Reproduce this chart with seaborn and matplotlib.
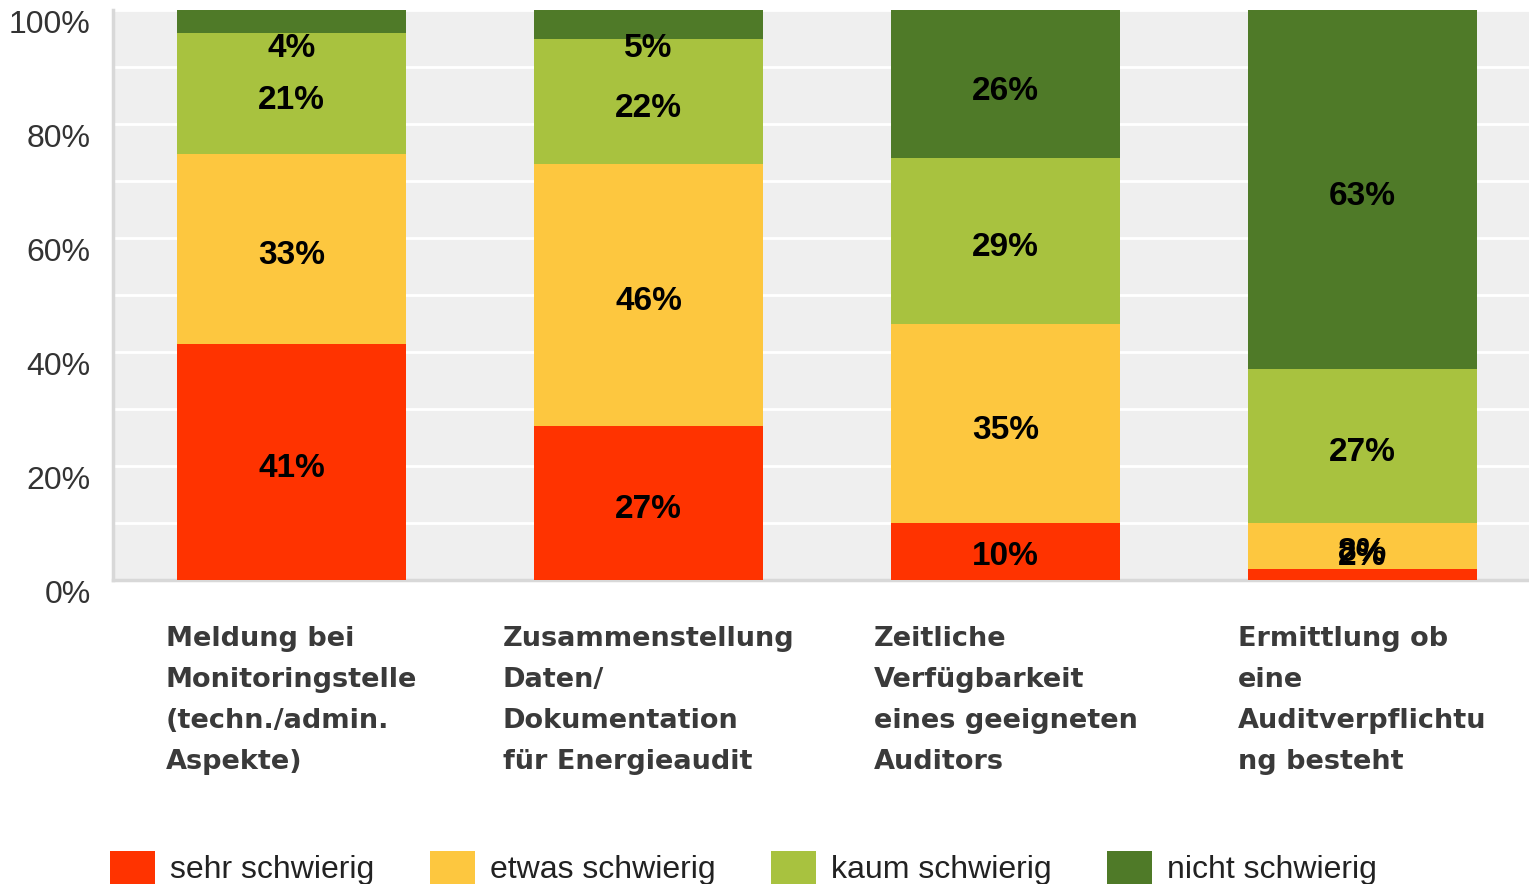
import matplotlib.pyplot as plt
import seaborn as sns
import numpy as np
from matplotlib.patches import Patch

# Daten (Anteile in %)
categories = ['Meldung bei\nMonitoringstelle\n(techn./admin.\nAspekte)',
              'Zusammenstellung\nDaten/\nDokumentation\nfür Energieaudit',
              'Zeitliche\nVerfügbarkeit\neines geeigneten\nAuditors',
              'Ermittlung ob\neine\nAuditverpflichtu\nng besteht']
series_names = ['sehr schwierig', 'etwas schwierig', 'kaum schwierig', 'nicht schwierig']
sehr = [41, 27, 10, 2]
etwas = [33, 46, 35, 8]
kaum = [21, 22, 29, 27]
nicht = [4, 5, 26, 63]
colors = ['#ff3300', '#fdc73f', '#a8c23f', '#4f7a28']
yticks = [0, 20, 40, 60, 80, 100]

values = np.array([sehr, etwas, kaum, nicht], dtype=float)
pct = values / values.sum(axis=0) * 100
cum = np.cumsum(pct, axis=0)

sns.set_style('white')
plt.rcParams['font.family'] = ['Liberation Sans', 'DejaVu Sans']

fig = plt.figure(figsize=(15.29, 8.84), dpi=100)
ax = fig.add_axes([113 / 1529, 304 / 884, 1428 / 1529, 570 / 884])
ax.set_facecolor('#efefef')

# gestapelte Balken: von oben nach unten überlagern
for i in range(3, -1, -1):
    sns.barplot(x=list(range(4)), y=cum[i], color=colors[i], saturation=1,
                width=0.64, ax=ax, zorder=3, linewidth=0)

# Datenbeschriftungen (kleine Segmente wie im Original in den Plotbereich geschoben)
for i in range(4):
    for j in range(4):
        lo = cum[i - 1, j] if i > 0 else 0
        mid = (lo + cum[i, j]) / 2
        mid = min(max(mid, 5.4), 94.5)
        ax.text(j, mid - 0.6, f'{int(values[i, j])}%', ha='center', va='center_baseline',
                fontsize=24, fontweight='bold', color='black', zorder=5)

ax.set_xlim(-0.5, 3.5)
ax.set_ylim(0, 100)
ax.set_yticks(np.arange(10, 100, 10), minor=True)
ax.set_yticks(yticks, labels=[f'{t}%' for t in yticks])
ax.grid(axis='y', which='both', color='white', linewidth=2, zorder=1)
ax.set_axisbelow(True)
for lab in ax.get_yticklabels():
    lab.set_verticalalignment('top')
ax.tick_params(axis='y', which='both', length=0, pad=16, labelsize=23, labelcolor='#333333')

ax.set_xticks(range(4), labels=categories)
for lab in ax.get_xticklabels():
    lab.set_multialignment('left')
    lab.set_fontfamily('DejaVu Sans')
    lab.set_fontweight('bold')
    lab.set_linespacing(1.75)
ax.tick_params(axis='x', length=0, pad=33, labelsize=19.5, labelcolor='#3a3a3a')

ax.set_xlabel('')
ax.set_ylabel('')
for side in ['top', 'right']:
    ax.spines[side].set_visible(False)
ax.spines['left'].set_color('#d8d8d8')
ax.spines['left'].set_linewidth(2.5)
ax.spines['bottom'].set_color('#d8d8d8')
ax.spines['bottom'].set_linewidth(2.5)

handles = [Patch(facecolor=c, edgecolor='none', label=n) for c, n in zip(colors, series_names)]
fig.legend(handles=handles, loc='center left', bbox_to_anchor=(110 / 1529, 1 - 868 / 884),
           ncol=4, frameon=False, fontsize=23, handlelength=1.4, handleheight=1.2,
           handletextpad=0.47, columnspacing=1.75, borderpad=0, borderaxespad=0,
           labelcolor='#222222')

fig.savefig('out.png', dpi=100)
